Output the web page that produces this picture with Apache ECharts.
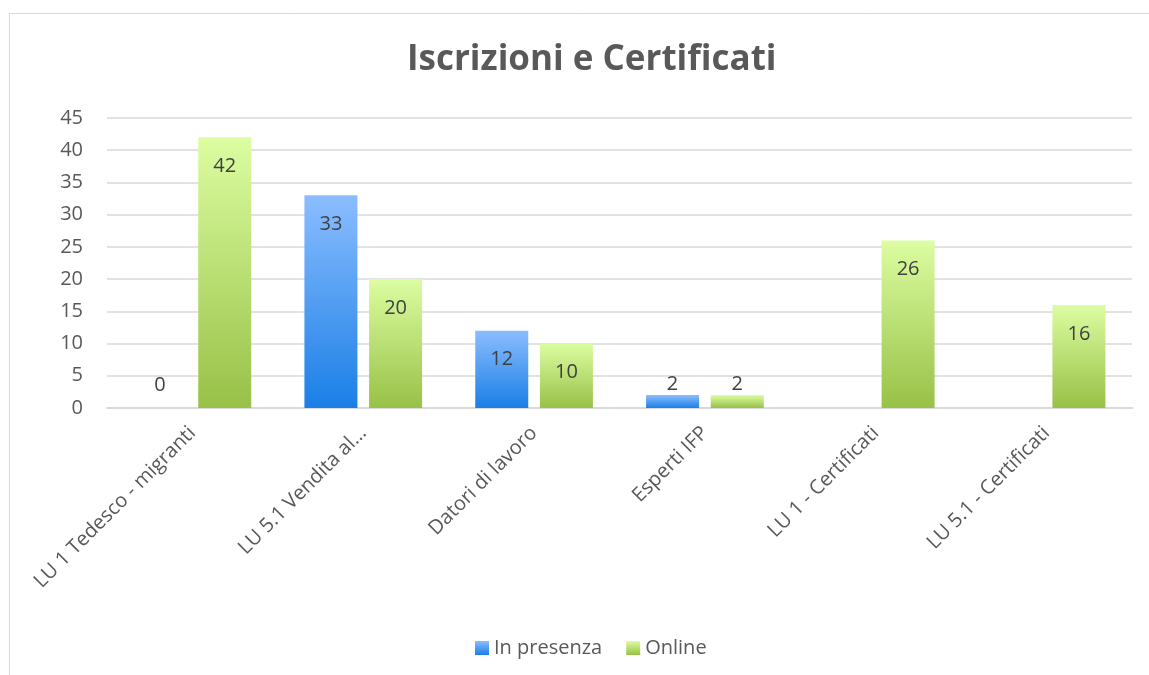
<!DOCTYPE html>
<html>
<head>
<meta charset="utf-8">
<script src="https://cdn.jsdelivr.net/npm/echarts@6/dist/echarts.min.js"></script>
<style>
  html, body { margin: 0; padding: 0; background: #fff; }
  #chart { width: 1149px; height: 675px; }
</style>
</head>
<body>
<div id="chart"></div>
<script>
const categories = ['LU 1 Tedesco - migranti', 'LU 5.1 Vendita al…', 'Datori di lavoro', 'Esperti IFP', 'LU 1 - Certificati', 'LU 5.1 - Certificati']
const inPresenza = [0, 33, 12, 2, null, null]
const online = [42, 20, 10, 2, 26, 16]
const yTicks = [0, 5, 10, 15, 20, 25, 30, 35, 40, 45]

const blue = new echarts.graphic.LinearGradient(0, 0, 0, 1, [
  { offset: 0, color: '#8bbdff' },
  { offset: 1, color: '#1a7fe6' }
])
const green = new echarts.graphic.LinearGradient(0, 0, 0, 1, [
  { offset: 0, color: '#dcfda1' },
  { offset: 1, color: '#98c147' }
])

const font = '"Open Sans", "Noto Sans", sans-serif'
const labelStyle = {
  show: true,
  position: 'insideTop',
  distance: 19,
  color: '#404040',
  fontSize: 20,
  fontFamily: font
}

// short bars get their label above the bar, like in Excel
const toData = arr => arr.map(v => {
  if (v === 0) return { value: v, label: { position: 'top', distance: 13 } }
  if (v !== null && v < 5) return { value: v, label: { position: 'top', distance: 1 } }
  return v
})

const myChart = echarts.init(document.getElementById('chart'))
myChart.setOption({
  animation: false,
  textStyle: { fontFamily: font },
  graphic: [{
    type: 'rect',
    shape: { x: 9.5, y: 13.5, width: 1300, height: 800 },
    style: { fill: 'none', stroke: '#d9d9d9', lineWidth: 1 },
    silent: true
  }],
  title: {
    text: 'Iscrizioni e Certificati',
    left: 402,
    top: 38,
    textStyle: { color: '#595959', fontSize: 35, fontWeight: 'bold', fontFamily: font }
  },
  legend: {
    data: ['In presenza', 'Online'],
    bottom: 12,
    left: 470,
    icon: 'rect',
    itemWidth: 14,
    itemHeight: 14,
    itemGap: 24,
    textStyle: { color: '#595959', fontSize: 20, fontFamily: font }
  },
  grid: {
    left: 107,
    right: 17,
    top: 118,
    bottom: 267
  },
  xAxis: {
    type: 'category',
    data: categories,
    axisLine: { lineStyle: { color: '#d9d9d9', width: 2 } },
    axisTick: { show: false },
    axisLabel: {
      rotate: 45,
      margin: 22,
      color: '#595959',
      fontSize: 20,
      fontFamily: font,
      interval: 0
    }
  },
  yAxis: {
    type: 'value',
    min: yTicks[0],
    max: yTicks[yTicks.length - 1],
    interval: 5,
    axisLine: { show: false },
    axisTick: { show: false },
    axisLabel: { margin: 24, color: '#595959', fontSize: 20, fontFamily: font },
    splitLine: { lineStyle: { color: '#d9d9d9', width: 1.5 } }
  },
  series: [
    {
      name: 'In presenza',
      type: 'bar',
      barWidth: 53,
      barGap: '22%',
      itemStyle: { color: blue },
      label: labelStyle,
      data: toData(inPresenza)
    },
    {
      name: 'Online',
      type: 'bar',
      barWidth: 53,
      barGap: '22%',
      itemStyle: { color: green },
      label: labelStyle,
      data: toData(online)
    }
  ]
})
window.onresize = function () {
  myChart.resize()
}
</script>
</body>
</html>
